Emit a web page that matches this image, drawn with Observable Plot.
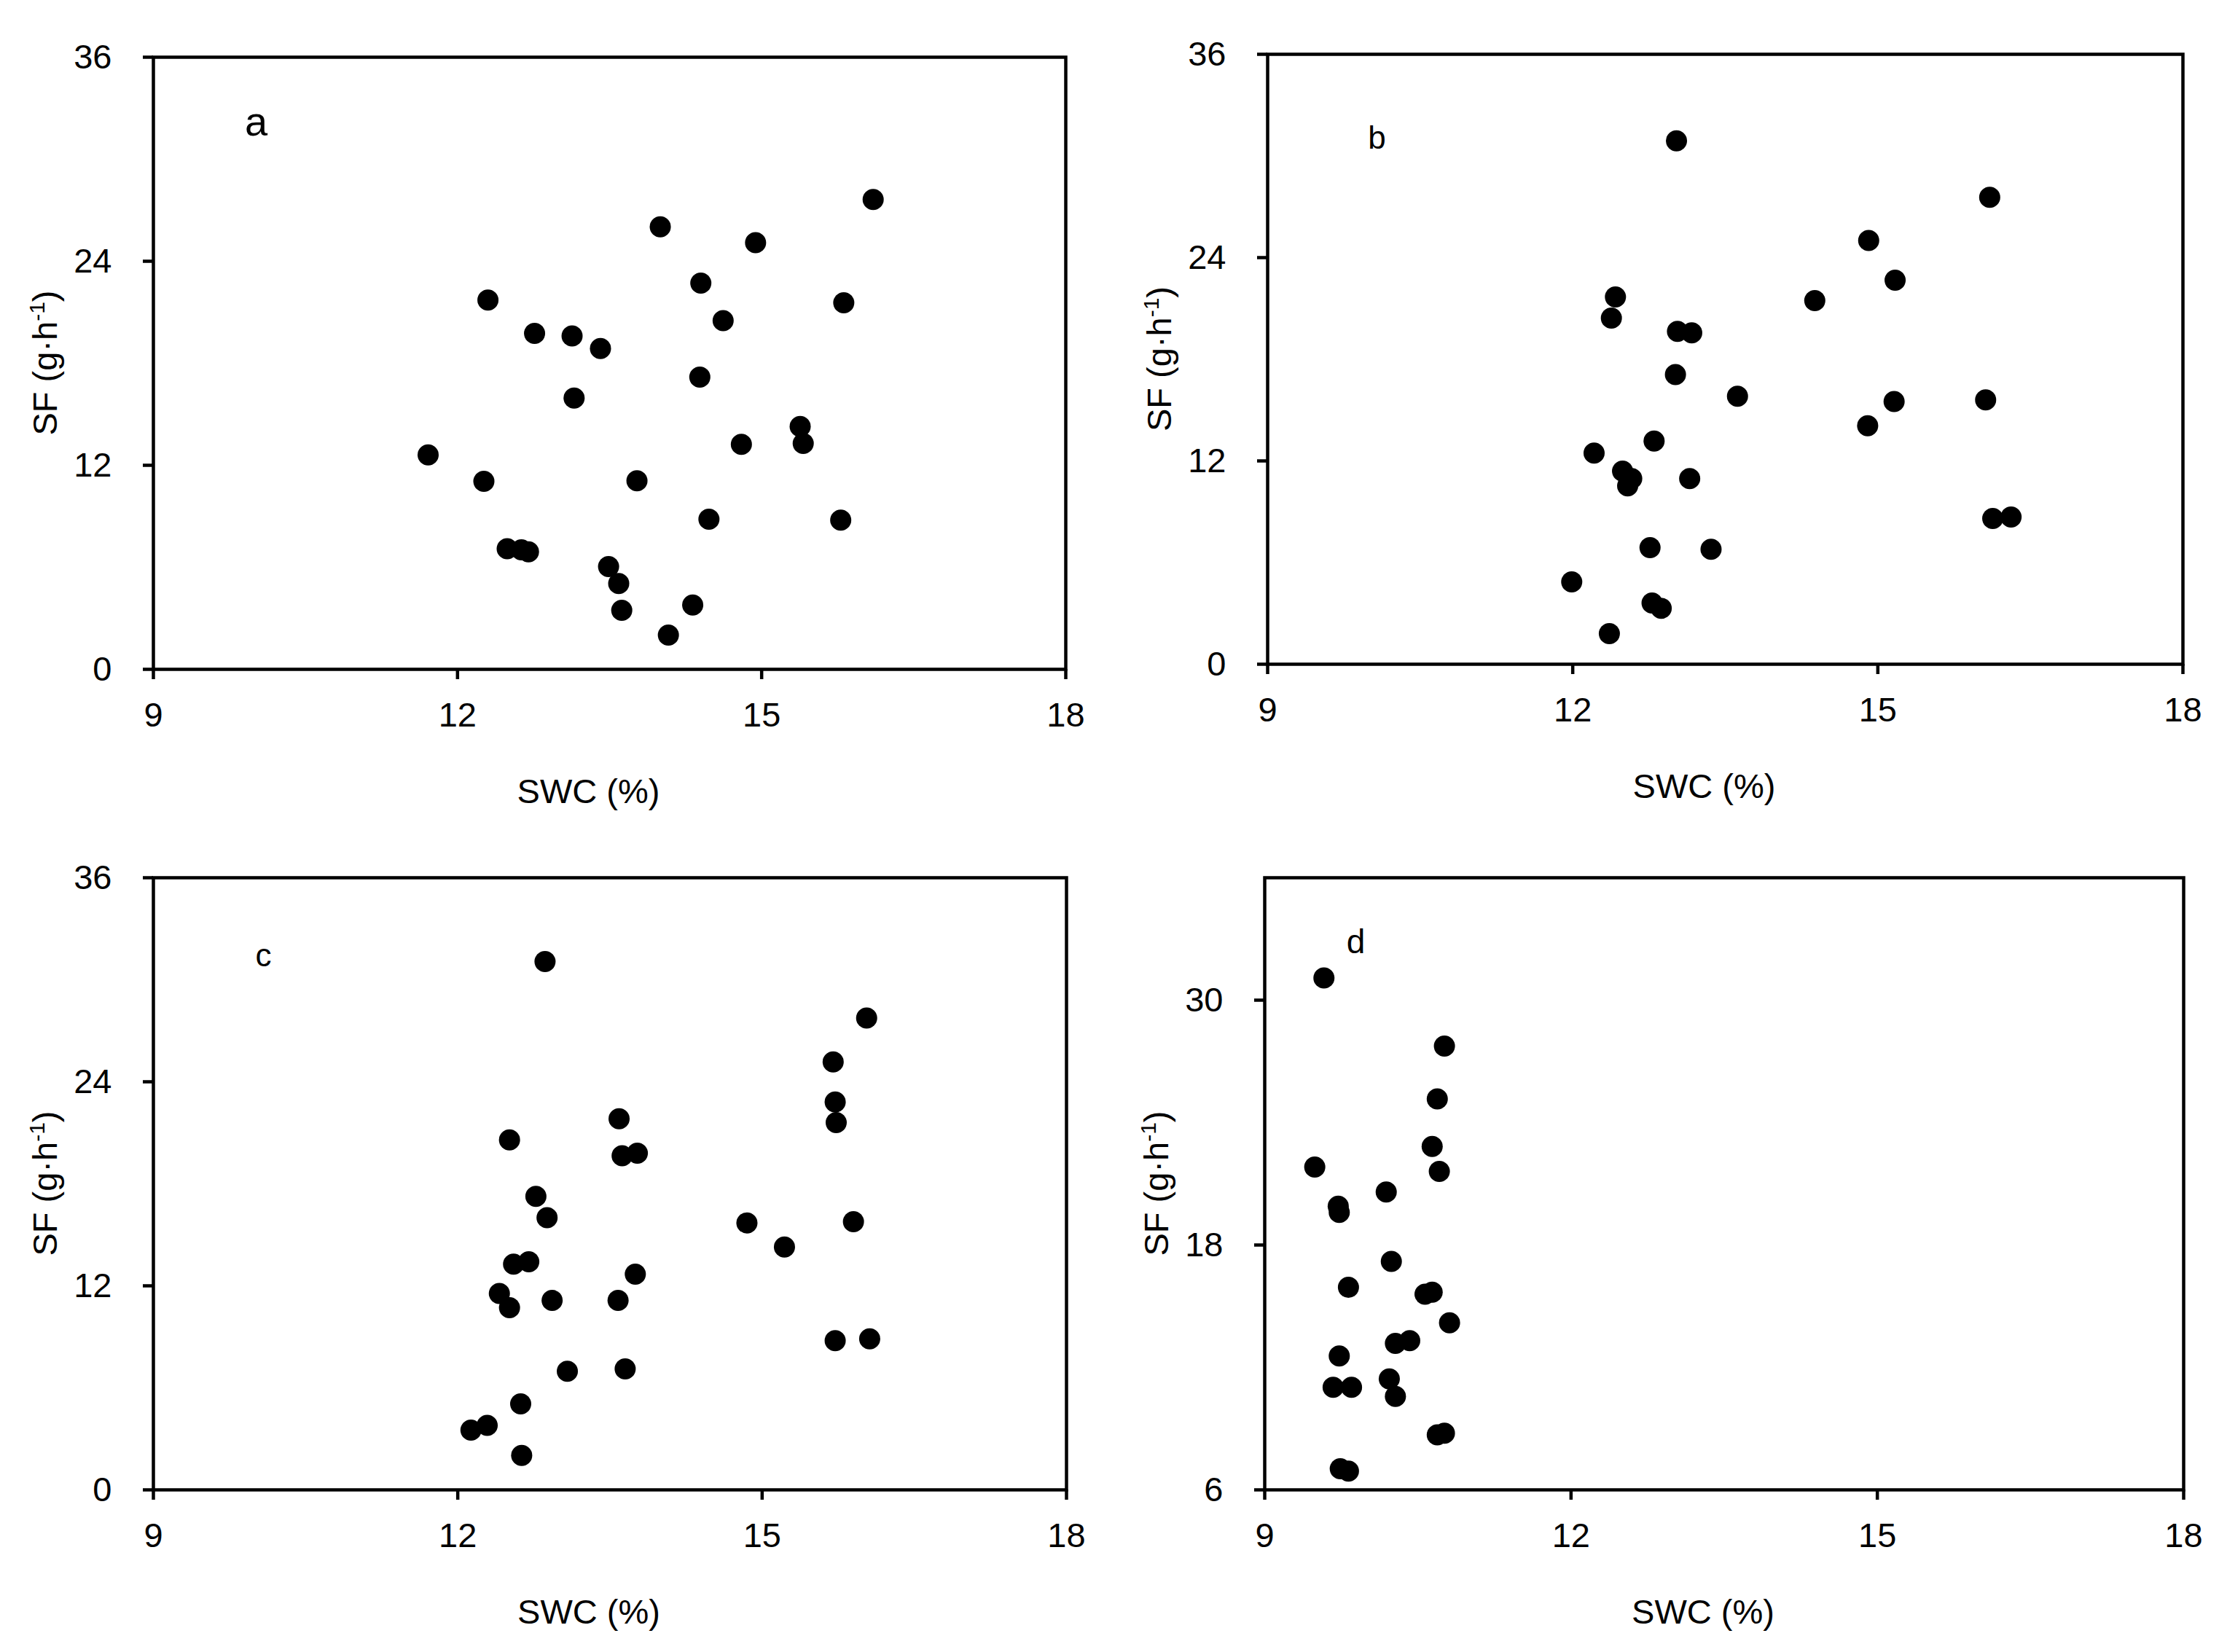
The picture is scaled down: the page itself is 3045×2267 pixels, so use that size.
<!DOCTYPE html>
<html><head><meta charset="utf-8">
<script src="https://cdn.jsdelivr.net/npm/d3@7"></script>
<script src="https://cdn.jsdelivr.net/npm/@observablehq/plot@0.6"></script>
<style>
html,body{margin:0;padding:0;background:#fff;}
#page{position:relative;width:3045px;height:2267px;overflow:hidden;background:#fff;}
.panel{position:absolute;}
</style></head><body><div id="page"></div>
<script>
// ---- data ----
const swcA = [11.71,12.26,12.30,12.49,12.63,12.70,12.76,13.13,13.15,13.41,13.49,13.59,13.62,13.77,14.00,14.08,14.32,14.39,14.40,14.48,14.62,14.80,14.94,15.38,15.41,15.78,15.81,16.10];
const sfA  = [12.61,11.06,21.72,7.09,7.03,6.91,19.76,19.61,15.95,18.87,6.04,5.05,3.47,11.09,26.02,2.01,3.78,17.19,22.71,8.83,20.51,13.23,25.09,14.28,13.29,8.77,21.56,27.63];

const swcB = [13.02,16.10,14.91,15.17,14.38,12.42,12.38,13.03,13.17,13.01,13.62,15.16,16.06,14.90,12.80,12.21,12.49,12.58,12.54,13.15,16.13,16.31,12.76,13.36,11.99,12.78,12.87,12.36];
const sfB  = [30.89,27.56,25.01,22.67,21.46,21.68,20.43,19.65,19.56,17.10,15.82,15.51,15.60,14.08,13.17,12.46,11.40,10.96,10.53,10.96,8.60,8.69,6.88,6.79,4.86,3.61,3.30,1.81];

const swcC = [12.86,16.03,15.70,15.72,15.73,13.59,12.51,13.62,13.77,12.77,12.88,14.85,15.90,15.22,12.55,12.70,13.75,12.41,12.51,12.93,13.58,15.72,16.06,13.08,13.65,12.62,12.29,12.13,12.63];
const sfC  = [31.07,27.75,25.17,22.81,21.60,21.82,20.58,19.65,19.80,17.26,16.01,15.70,15.77,14.28,13.28,13.41,12.69,11.55,10.71,11.14,11.14,8.78,8.88,6.98,7.11,5.06,3.79,3.51,2.02];

const swcD = [9.58,10.76,10.69,10.64,9.49,10.71,10.19,9.72,9.73,10.24,9.82,10.57,10.64,10.81,10.28,10.42,9.73,9.67,9.85,10.22,10.28,10.69,10.76,9.74,9.82];
const sfD  = [31.09,27.75,25.16,22.83,21.82,21.61,20.60,19.90,19.60,17.20,15.93,15.59,15.69,14.19,13.18,13.31,12.56,11.03,11.03,11.44,10.58,8.70,8.78,7.04,6.92];

const xDomain = [9, 18];
const xTicks = [9, 12, 15, 18];
const yDomainABC = [0, 36];
const yTicksABC = [0, 12, 24, 36];
const yDomainD = [6, 36];
const yTicksD = [6, 18, 30];
const xLabel = "SWC (%)";
const yLabelMain = "SF (g·h";
const yLabelSup = "-1";
const yLabelEnd = ")";
const letters = ["a", "b", "c", "d"];

const FONT = "'Liberation Sans', Arial, Helvetica, sans-serif";

function panel(o) {
  const data = o.swc.map((x, i) => ({x, y: o.sf[i]}));
  const chart = Plot.plot({
    width: o.width, height: o.height,
    marginLeft: o.mL, marginRight: o.mR, marginTop: o.mT, marginBottom: o.mB,
    style: {fontFamily: FONT, fontSize: "47px", color: "#000", background: "transparent", overflow: "visible"},
    x: {domain: xDomain, label: null},
    y: {domain: o.yDomain, label: null},
    marks: [
      Plot.dot(data, {x: "x", y: "y", r: 14.5, fill: "#000", stroke: "none"}),
      Plot.frame({stroke: "#000", strokeWidth: 4.5}),
      Plot.axisX({ticks: xTicks, tickSize: 14, tickPadding: 31, strokeWidth: 4.5, label: null, fontSize: 47}),
      Plot.axisY({ticks: o.yTicks, tickSize: 14, tickPadding: 43, strokeWidth: 4.5, label: null, fontSize: 47}),
      Plot.text([o.letter], {text: d => d, frameAnchor: "top-left", dx: o.ldx, dy: o.ldy, fontSize: o.lsize, lineAnchor: "middle", textAnchor: "middle"}),
      Plot.text([xLabel], {text: d => d, frameAnchor: "bottom", dx: -29, dy: 168, fontSize: 47, lineAnchor: "middle", textAnchor: "middle"})
    ]
  });
  const frameH = o.height - o.mT - o.mB;
  const t = d3.select(chart).append("text")
    .attr("transform", `translate(${o.mL - 132},${o.mT + frameH / 2}) rotate(-90)`)
    .attr("text-anchor", "middle")
    .attr("font-family", FONT)
    .attr("font-size", 47)
    .attr("fill", "#000");
  t.append("tspan").text(yLabelMain);
  t.append("tspan").attr("font-size", 30).attr("dy", -17).text(yLabelSup);
  t.append("tspan").attr("dy", 17).text(yLabelEnd);
  chart.classList.add("panel");
  chart.style.left = o.left + "px";
  chart.style.top = o.top + "px";
  document.getElementById("page").appendChild(chart);
}

panel({swc: swcA, sf: sfA, yDomain: yDomainABC, yTicks: yTicksABC, letter: letters[0], lsize: 56, ldx: 141, ldy: 90,
  left: 0, top: 0, width: 1522, height: 1133, mL: 210, mR: 60, mT: 78, mB: 215});
panel({swc: swcB, sf: sfB, yDomain: yDomainABC, yTicks: yTicksABC, letter: letters[1], lsize: 44, ldx: 150, ldy: 115,
  left: 1523, top: 0, width: 1522, height: 1133, mL: 216, mR: 50, mT: 74, mB: 222});
panel({swc: swcC, sf: sfC, yDomain: yDomainABC, yTicks: yTicksABC, letter: letters[2], lsize: 44, ldx: 151, ldy: 107,
  left: 0, top: 1133, width: 1522, height: 1134, mL: 210, mR: 59, mT: 71, mB: 223});
panel({swc: swcD, sf: sfD, yDomain: yDomainD, yTicks: yTicksD, letter: letters[3], lsize: 46, ldx: 125, ldy: 89,
  left: 1523, top: 1133, width: 1522, height: 1134, mL: 212, mR: 49, mT: 71, mB: 223});
</script>
</body></html>
